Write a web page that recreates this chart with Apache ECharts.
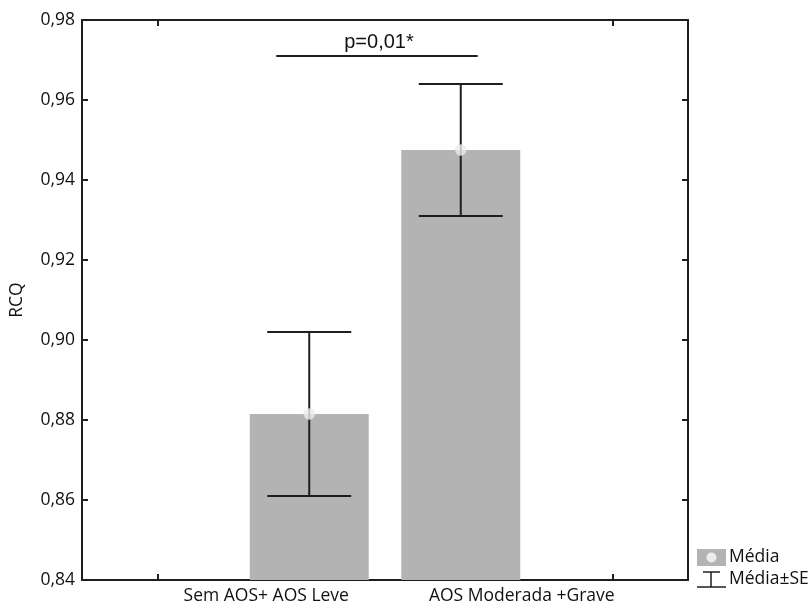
<!DOCTYPE html>
<html>
<head>
<meta charset="utf-8">
<script src="https://cdn.jsdelivr.net/npm/echarts@6/dist/echarts.min.js"></script>
<style>
html,body{margin:0;padding:0;background:#fff;}
#chart{width:808px;height:609px;}
</style>
</head>
<body>
<div id="chart"></div>
<script>
// ---- data ----
const categories = ['', 'Sem AOS+ AOS Leve', 'AOS Moderada +Grave', ''];
const means = ['-', 0.8815, 0.9475, '-'];
const seValues = ['-', 0.0205, 0.0165, '-'];
const yMin = 0.84, yMax = 0.98, yStep = 0.02;
const sigFrom = 1, sigTo = 2, sigY = 0.971, sigLabel = 'p=0,01*';
const yAxisName = 'RCQ';
const legendMean = 'Média', legendSE = 'Média±SE';

const FONT = '"Open Sans", sans-serif';
const FS = 17.5;
const INK = '#111';
const LINE = '#1e1e1e';

const errData = [];
const meanPts = [];
for (let i = 0; i < categories.length; i++) {
  if (means[i] !== '-') {
    errData.push([i, means[i], seValues[i]]);
    meanPts.push([i, means[i]]);
  }
}

const chart = echarts.init(document.getElementById('chart'), null, {renderer: 'canvas'});

const tickOuter = (idx) => idx === 0 || idx === categories.length - 1;

const option = {
  animation: false,
  backgroundColor: '#fff',
  grid: {left: 80, right: 120, top: 20, bottom: 29, containLabel: false},
  xAxis: [{
    type: 'category',
    data: categories,
    position: 'bottom',
    boundaryGap: true,
    axisLine: {show: true, onZero: false, lineStyle: {color: LINE, width: 2}},
    axisTick: {show: true, inside: true, length: 6, alignWithLabel: true, interval: tickOuter, lineStyle: {color: LINE, width: 2}},
    splitLine: {show: false},
    axisLabel: {
      interval: 0, margin: 7, color: INK, fontFamily: FONT, fontSize: FS,
      formatter: function (v, i) {
        if (i === 1) return '{a|' + v + '}';
        if (i === 2) return '{b|' + v + '}';
        return v;
      },
      rich: {
        a: {fontFamily: FONT, fontSize: FS, color: INK, padding: [0, 86, 0, 0]},
        b: {fontFamily: FONT, fontSize: FS, color: INK, padding: [0, 0, 0, 122]}
      }
    }
  }, {
    type: 'category',
    data: categories,
    position: 'top',
    boundaryGap: true,
    axisLine: {show: true, onZero: false, lineStyle: {color: LINE, width: 2}},
    axisTick: {show: true, inside: true, length: 6, alignWithLabel: true, interval: tickOuter, lineStyle: {color: LINE, width: 2}},
    axisLabel: {show: false},
    splitLine: {show: false}
  }],
  yAxis: [{
    type: 'value',
    min: yMin, max: yMax, interval: yStep,
    position: 'left',
    name: yAxisName,
    nameLocation: 'middle',
    nameGap: 56,
    nameRotate: 90,
    nameTextStyle: {color: INK, fontFamily: FONT, fontSize: FS},
    axisLine: {show: true, lineStyle: {color: LINE, width: 2}},
    axisTick: {show: true, inside: true, length: 6, lineStyle: {color: LINE, width: 2}},
    splitLine: {show: false},
    axisLabel: {
      margin: 7, color: INK, fontFamily: FONT, fontSize: FS,
      formatter: v => v.toFixed(2).replace('.', ',')
    }
  }, {
    type: 'value',
    min: yMin, max: yMax, interval: yStep,
    position: 'right',
    axisLine: {show: true, lineStyle: {color: LINE, width: 2}},
    axisTick: {show: true, inside: true, length: 6, lineStyle: {color: LINE, width: 2}},
    splitLine: {show: false},
    axisLabel: {show: false}
  }],
  series: [{
    type: 'bar',
    data: means,
    barWidth: 119,
    itemStyle: {color: '#b3b3b3'},
    z: 2
  }, {
    type: 'custom',
    data: errData,
    z: 3,
    renderItem: function (params, api) {
      const x = api.value(0), m = api.value(1), s = api.value(2);
      const hi = api.coord([x, m + s]);
      const lo = api.coord([x, m - s]);
      const half = 42;
      const st = {stroke: LINE, lineWidth: 2};
      return {
        type: 'group',
        children: [
          {type: 'line', shape: {x1: hi[0], y1: hi[1], x2: lo[0], y2: lo[1]}, style: st},
          {type: 'line', shape: {x1: hi[0] - half, y1: hi[1], x2: hi[0] + half, y2: hi[1]}, style: st},
          {type: 'line', shape: {x1: lo[0] - half, y1: lo[1], x2: lo[0] + half, y2: lo[1]}, style: st}
        ]
      };
    }
  }, {
    type: 'scatter',
    data: meanPts,
    symbol: 'circle',
    symbolSize: 11,
    itemStyle: {color: '#ececec', borderColor: '#dcdcdc', borderWidth: 0.5},
    z: 4
  }, {
    type: 'custom',
    data: [[sigFrom, sigTo, sigY]],
    z: 5,
    renderItem: function (params, api) {
      const a = api.coord([api.value(0), api.value(2)]);
      const b = api.coord([api.value(1), api.value(2)]);
      const x1 = a[0] - 33, x2 = b[0] + 17;
      return {
        type: 'group',
        children: [
          {type: 'line', shape: {x1: x1, y1: a[1], x2: x2, y2: a[1]}, style: {stroke: LINE, lineWidth: 2}},
          {type: 'text', style: {text: sigLabel, x: (x1 + x2) / 2 + 2, y: a[1] - 4, align: 'center', verticalAlign: 'bottom',
            fill: INK, font: '20px "Liberation Sans", Arial, sans-serif'}}
        ]
      };
    }
  }],
  graphic: [
    {type: 'rect', shape: {x: 697, y: 549, width: 29, height: 17}, style: {fill: '#b3b3b3'}},
    {type: 'circle', shape: {cx: 711.5, cy: 557.5, r: 5}, style: {fill: '#ececec'}},
    {type: 'text', style: {text: legendMean, x: 729, y: 557, verticalAlign: 'middle', fill: INK, font: FS + 'px ' + FONT}},
    {type: 'line', shape: {x1: 703, y1: 572, x2: 720, y2: 572}, style: {stroke: LINE, lineWidth: 1.5}},
    {type: 'line', shape: {x1: 711, y1: 572, x2: 711, y2: 587}, style: {stroke: LINE, lineWidth: 1.5}},
    {type: 'line', shape: {x1: 697, y1: 587, x2: 726, y2: 587}, style: {stroke: LINE, lineWidth: 1.5}},
    {type: 'text', style: {text: legendSE, x: 729, y: 579, verticalAlign: 'middle', fill: INK, font: FS + 'px ' + FONT}}
  ]
};
chart.setOption(option);
</script>
</body>
</html>
